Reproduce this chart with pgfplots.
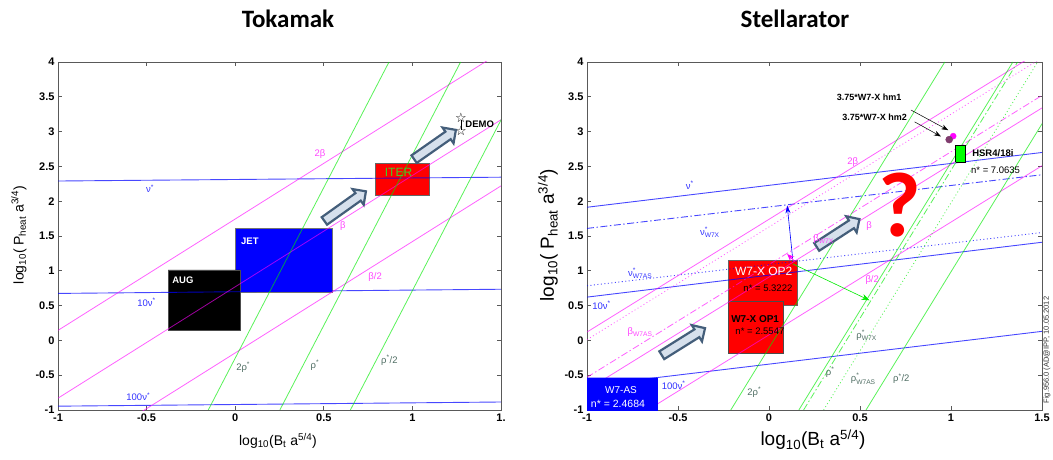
\documentclass[border=0pt]{standalone}
\usepackage{fontspec}
\setmainfont{Liberation Sans}
\newfontfamily\titlefont{Carlito}
\newfontfamily\symfont{DejaVu Sans}
\usepackage{amsmath}
\usepackage{pgfplots}
\pgfplotsset{compat=1.18}
\usetikzlibrary{arrows.meta,shapes.arrows}

\definecolor{lblue}{RGB}{0,0,255}
\definecolor{lpink}{RGB}{255,0,255}
\definecolor{lgreen}{RGB}{0,235,0}
\definecolor{labblue}{RGB}{50,50,255}
\definecolor{labpink}{RGB}{255,70,255}
\definecolor{labrho}{RGB}{80,110,100}
\definecolor{steel}{RGB}{68,94,122}
\definecolor{steelfill}{RGB}{214,224,236}
\definecolor{iterg}{RGB}{60,210,40}
\definecolor{dotpurple}{RGB}{128,60,110}

\newcommand{\stsub}[1]{\ensuremath{^{\text{*}}_{\text{#1}}}}

\tikzset{
  dashdot/.style={dash pattern=on 7pt off 2.5pt on 1.5pt off 2.5pt},
  dots/.style={dash pattern=on 1pt off 2.5pt},
  lab/.style={font=\fontsize{9.5}{11}\selectfont, inner sep=0pt},
  barrow/.style={single arrow, draw=steel, fill=steelfill, line width=2.2pt, minimum height=51pt,
    inner sep=3.5pt, single arrow head extend=5pt},
}
\pgfplotsset{
  myax/.style={anchor=south west, scale only axis, height=348pt,
    xmin=-1, xmax=1.5, ymin=-1, ymax=4,
    ytick={-1,-0.5,0,0.5,1,1.5,2,2.5,3,3.5,4},
    yticklabels={-1,-0.5,0,0.5,1,1.5,2,2.5,3,3.5,4},
    xtick={-1,-0.5,0,0.5,1,1.5},
    tick align=inside, major tick length=4pt,
    axis line style={black!65, line width=0.8pt},
    tick style={black!65, line width=0.7pt},
    tick label style={font=\bfseries\fontsize{11}{13}\selectfont},
    /pgf/number format/assume math mode=true,
    clip mode=individual},
  nuS/.style={draw=lblue, draw opacity=0.72, line width=0.9pt, mark=none},
  beS/.style={draw=lpink, draw opacity=0.62, line width=0.8pt, mark=none},
  rhS/.style={draw=lgreen, draw opacity=0.65, line width=0.8pt, mark=none},
}

\begin{document}
\begin{tikzpicture}
\path[use as bounding box] (0pt,0pt) rectangle (1053pt,459pt);

% titles
\node[font=\titlefont\bfseries\fontsize{25}{28}\selectfont] at (288pt,440pt) {Tokamak};
\node[font=\titlefont\bfseries\fontsize{25}{28}\selectfont] at (795pt,440pt) {Stellarator};

% ================= LEFT: Tokamak =================
\begin{axis}[myax, at={(58pt,49pt)}, width=443pt,
  xticklabels={-1,-0.5,0,0.5,1,1.}]
% boxes
\addplot[fill=blue, draw=black!55, mark=none] coordinates {(0,0.694)(0.545,0.694)(0.545,1.607)(0,1.607)(0,0.694)};
\addplot[fill=black, draw=black!70, mark=none] coordinates {(-0.378,0.153)(0.026,0.153)(0.026,1.014)(-0.378,1.014)(-0.378,0.153)};
\addplot[fill=red, draw=black!60, mark=none] coordinates {(0.789,2.087)(1.093,2.087)(1.093,2.548)(0.789,2.548)(0.789,2.087)};
% nu* lines
\addplot[nuS] coordinates {(-1,2.29)(1.5,2.345)};
\addplot[nuS] coordinates {(-1,0.675)(1.5,0.735)};
\addplot[nuS] coordinates {(-1,-0.945)(1.5,-0.885)};
% beta lines
\addplot[beS] coordinates {(-1,0.144)(1.5,4.144)};
\addplot[beS] coordinates {(-1,-0.83)(1.5,3.17)};
\addplot[beS] coordinates {(-1,-1.78)(1.5,2.22)};
% rho* lines
\addplot[rhS] coordinates {(-0.152,-1)(0.868,4)};
\addplot[rhS] coordinates {(0.252,-1)(1.272,4)};
\addplot[rhS] coordinates {(0.65,-1)(1.67,4)};
% DEMO
\addplot[black, line width=0.5pt, mark=none] coordinates {(1.274,3.03)(1.274,3.172)};
\addplot[only marks, black, mark=text, text mark={\symfont\fontsize{13}{13}\selectfont ☆}] coordinates {(1.274,3.005)(1.274,3.197)};
% block arrows
\node[barrow, rotate=35.5] at (axis cs:0.61,1.91) {};
\node[barrow, rotate=35] at (axis cs:1.117,2.795) {};
% box labels
\node[text=white, font=\bfseries\fontsize{9.5}{11}\selectfont] at (axis cs:-0.295,0.86) {AUG};
\node[text=white, font=\bfseries\fontsize{9.5}{11}\selectfont] at (axis cs:0.083,1.43) {JET};
\node[text=iterg, font=\fontsize{12}{13}\selectfont] at (axis cs:0.922,2.41) {ITER};
\node[text=black, font=\bfseries\fontsize{9.5}{11}\selectfont] at (axis cs:1.38,3.10) {DEMO};
% line labels
\node[lab, text=labblue] at (axis cs:-0.48,2.18) {ν\textsuperscript{*}};
\node[lab, text=labblue] at (axis cs:-0.50,0.55) {10ν\textsuperscript{*}};
\node[lab, text=labblue] at (axis cs:-0.547,-0.81) {100ν\textsuperscript{*}};
\node[lab, text=labpink] at (axis cs:0.478,2.68) {2β};
\node[lab, text=labpink] at (axis cs:0.607,1.64) {β};
\node[lab, text=labpink] at (axis cs:0.79,0.91) {β/2};
\node[lab, text=labrho] at (axis cs:0.045,-0.38) {2ρ\textsuperscript{*}};
\node[lab, text=labrho] at (axis cs:0.45,-0.36) {ρ\textsuperscript{*}};
\node[lab, text=labrho] at (axis cs:0.87,-0.29) {ρ\textsuperscript{*}/2};
\end{axis}

\node[rotate=90, font=\fontsize{14}{16}\selectfont] at (19pt,224pt) {log\textsubscript{10}( P\textsubscript{heat} a\textsuperscript{3/4})};
\node[font=\fontsize{14}{16}\selectfont] at (278pt,18pt) {log\textsubscript{10}(B\textsubscript{t} a\textsuperscript{5/4})};

% ================= RIGHT: Stellarator =================
\begin{axis}[myax, at={(587pt,49pt)}, width=455pt,
  xticklabels={-1,-0.5,0,0.5,1,1.5}]
% boxes under lines
\addplot[fill=red, draw=black!60, mark=none] coordinates {(-0.225,0.502)(0.155,0.502)(0.155,1.148)(-0.225,1.148)(-0.225,0.502)};
\addplot[fill=red, draw=black!70, mark=none] coordinates {(-0.225,-0.19)(0.079,-0.19)(0.079,0.565)(-0.225,0.565)(-0.225,-0.19)};
% nu lines
\addplot[nuS] coordinates {(-1,1.913)(1.5,2.70)};
\addplot[nuS, dashdot] coordinates {(-1,1.609)(1.5,2.38)};
\addplot[nuS, dots] coordinates {(-1,0.785)(1.5,1.55)};
\addplot[nuS] coordinates {(-1,0.622)(1.5,1.41)};
\addplot[nuS] coordinates {(-1,-0.655)(1.5,0.13)};
% beta lines
\addplot[beS] coordinates {(-1,0.12)(1.5,4.17)};
\addplot[beS] coordinates {(-1,-0.71)(1.5,3.34)};
\addplot[beS] coordinates {(-1,-1.54)(1.5,2.51)};
\addplot[beS, dashdot] coordinates {(-1,-0.53)(1.5,3.52)};
\addplot[beS, dots] coordinates {(-1,0.01)(1.5,4.06)};
% rho lines
\addplot[rhS] coordinates {(-0.21,-1)(0.966,4)};
\addplot[rhS] coordinates {(0.164,-1)(1.34,4)};
\addplot[rhS, dashdot] coordinates {(0.19,-1)(1.366,4)};
\addplot[rhS, dots] coordinates {(0.30,-1)(1.476,4)};
\addplot[rhS] coordinates {(0.533,-1)(1.709,4)};
% W7-AS box on top
\addplot[fill=blue, draw=blue, mark=none] coordinates {(-1,-1)(-0.616,-1)(-0.616,-0.536)(-1,-0.536)(-1,-1)};
% HSR box
\addplot[fill=green, draw=black, line width=0.6pt, mark=none] coordinates {(1.025,2.56)(1.08,2.56)(1.08,2.80)(1.025,2.80)(1.025,2.56)};
% hm points
\addplot[only marks, mark=*, mark size=3pt, color=lpink] coordinates {(1.012,2.935)};
\addplot[only marks, mark=*, mark size=3.5pt, color=dotpurple] coordinates {(0.99,2.885)};
% thin arrows
\draw[lblue, line width=0.6pt, -{Stealth[length=8pt,width=5pt]}] (axis cs:0.13,1.175) -- (axis cs:0.10,1.94);
\draw[lgreen, line width=0.6pt, -{Stealth[length=8pt,width=6pt]}] (axis cs:0.13,1.10) -- (axis cs:0.552,0.576);
\draw[lpink, line width=0.8pt, -{Stealth[length=7pt,width=6pt]}] (axis cs:0.14,1.14) -- (axis cs:0.10,1.24);
\draw[black, line width=0.5pt, -{Stealth[length=7pt,width=5pt]}] (axis cs:0.78,3.31) -- (axis cs:0.985,3.02);
\draw[black, line width=0.5pt, -{Stealth[length=7pt,width=5pt]}] (axis cs:0.80,3.14) -- (axis cs:0.945,2.93);
% block arrows
\node[barrow, rotate=32] at (axis cs:-0.481,-0.036) {};
\node[barrow, rotate=33] at (axis cs:0.369,1.525) {};
% question mark
\node[text=red, font=\titlefont\bfseries\fontsize{92}{94}\selectfont] at (axis cs:0.717,1.94) {?};
% box texts
\node[text=white, font=\fontsize{12}{13}\selectfont] at (axis cs:-0.029,0.995) {W7-X OP2};
\node[text=black, font=\fontsize{9.5}{11}\selectfont] at (axis cs:-0.006,0.75) {n* = 5.3222};
\node[text=black, font=\bfseries\fontsize{10}{11}\selectfont] at (axis cs:-0.076,0.30) {W7-X OP1};
\node[text=black, font=\fontsize{9.5}{11}\selectfont] at (axis cs:-0.05,0.134) {n* = 2.5547};
\node[text=white, font=\fontsize{10}{11}\selectfont] at (axis cs:-0.813,-0.71) {W7-AS};
\node[text=white, font=\fontsize{10.5}{11}\selectfont] at (axis cs:-0.83,-0.91) {n* = 2.4684};
\node[text=black, font=\bfseries\fontsize{9.5}{11}\selectfont] at (axis cs:1.23,2.69) {HSR4/18i};
\node[text=black, font=\fontsize{9.5}{11}\selectfont] at (axis cs:1.245,2.45) {n* = 7.0635};
\node[text=black, font=\bfseries\fontsize{9}{11}\selectfont] at (axis cs:0.55,3.50) {3.75*W7-X hm1};
\node[text=black, font=\bfseries\fontsize{9}{11}\selectfont] at (axis cs:0.58,3.21) {3.75*W7-X hm2};
% line labels
\node[lab, text=labblue] at (axis cs:-0.435,2.227) {ν\textsuperscript{*}};
\node[lab, text=labblue] at (axis cs:-0.325,1.55) {ν\stsub{W7X}};
\node[lab, text=labblue] at (axis cs:-0.708,0.96) {ν\stsub{W7AS}};
\node[lab, text=labblue] at (axis cs:-0.92,0.50) {10ν\textsuperscript{*}};
\node[lab, text=labblue] at (axis cs:-0.524,-0.646) {100ν\textsuperscript{*}};
\node[lab, text=labpink] at (axis cs:0.46,2.565) {2β};
\node[lab, text=labpink] at (axis cs:0.55,1.64) {β};
\node[lab, text=labpink] at (axis cs:0.567,0.87) {β/2};
\node[lab, text=labpink] at (axis cs:0.30,1.45) {β\textsubscript{W7X}};
\node[lab, text=labpink] at (axis cs:-0.708,0.12) {β\textsubscript{W7AS}};
\node[lab, text=labrho] at (axis cs:-0.081,-0.74) {2ρ\textsuperscript{*}};
\node[lab, text=labrho] at (axis cs:0.336,-0.456) {ρ\textsuperscript{*}};
\node[lab, text=labrho] at (axis cs:0.536,0.07) {ρ\stsub{W7X}};
\node[lab, text=labrho] at (axis cs:0.518,-0.55) {ρ\stsub{W7AS}};
\node[lab, text=labrho] at (axis cs:0.727,-0.55) {ρ\textsuperscript{*}/2};
\end{axis}

\node[rotate=90, font=\fontsize{19}{21}\selectfont] at (548pt,224pt) {log\textsubscript{10}( P\textsubscript{heat} a\textsuperscript{3/4})};
\node[font=\fontsize{19}{21}\selectfont] at (813pt,19pt) {log\textsubscript{10}(B\textsubscript{t} a\textsuperscript{5/4})};
\node[rotate=90, font=\fontsize{7.5}{9}\selectfont, text=black!80] at (1047pt,109pt) {Fig.956.0 (AD@IPP, 10.05.2012};
\end{tikzpicture}
\end{document}
